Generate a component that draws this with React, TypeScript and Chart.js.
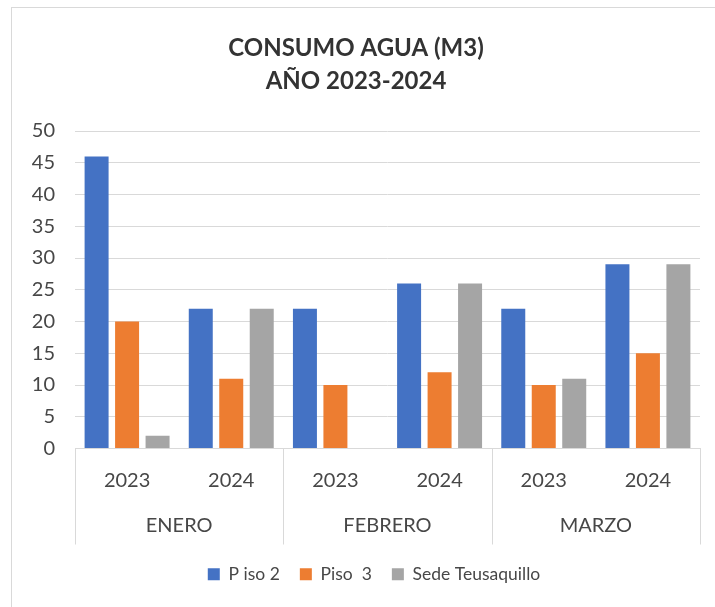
import React, { useEffect, useRef } from "react";
import { Chart, registerables } from "chart.js";

Chart.register(...registerables);

const years = ["2023", "2024", "2023", "2024", "2023", "2024"];
const months = ["ENERO", "FEBRERO", "MARZO"];
const piso2 = [46, 22, 22, 26, 22, 29];
const piso3 = [20, 11, 10, 12, 10, 15];
const sede: (number | null)[] = [2, 22, null, 26, 11, 29];
const seriesNames = ["P iso 2", "Piso  3", "Sede Teusaquillo"];
const titleLines = ["CONSUMO AGUA (M3)", "AÑO 2023-2024"];

const FONT = "Lato";
const GRID = "#d9d9d9";
const TEXT = "#474747";

const monthPlugin = {
  id: "monthGroups",
  afterLayout(chart: any) {
    const lg = chart.legend;
    if (lg) {
      lg.left += 18;
      lg.right += 18;
    }
  },
  afterDraw(chart: any) {
    const x = chart.scales.x;
    const ctx = chart.ctx;
    const bottom = chart.chartArea.bottom;
    const step = x.getPixelForValue(1) - x.getPixelForValue(0);
    ctx.save();
    ctx.strokeStyle = GRID;
    ctx.lineWidth = 1;
    const bounds: number[] = [];
    for (let g = 0; g < months.length; g++) {
      bounds.push(x.getPixelForValue(g * 2) - step / 2);
    }
    bounds.push(x.getPixelForValue(years.length - 1) + step / 2);
    bounds.forEach((bx) => {
      const px = Math.round(bx) + 0.5;
      ctx.beginPath();
      ctx.moveTo(px, bottom);
      ctx.lineTo(px, bottom + 96);
      ctx.stroke();
    });
    ctx.fillStyle = TEXT;
    ctx.font = `20px ${FONT}`;
    ctx.textAlign = "center";
    ctx.textBaseline = "middle";
    months.forEach((m, g) => {
      const cx = (x.getPixelForValue(g * 2) + x.getPixelForValue(g * 2 + 1)) / 2;
      ctx.fillText(m, cx, bottom + 77);
    });
    ctx.restore();
  },
};

export default function App() {
  const ref = useRef<HTMLCanvasElement>(null);
  useEffect(() => {
    if (!ref.current) return;
    const common = {
      categoryPercentage: 0.878,
      barPercentage: 0.787,
    };
    const chart = new Chart(ref.current, {
      type: "bar",
      data: {
        labels: years,
        datasets: [
          { label: seriesNames[0], data: piso2, backgroundColor: "#4472C4", ...common },
          { label: seriesNames[1], data: piso3, backgroundColor: "#ED7D31", ...common },
          { label: seriesNames[2], data: sede, backgroundColor: "#A5A5A5", ...common },
        ],
      },
      options: {
        animation: false,
        responsive: false,
        layout: { padding: { left: 0, right: 15, top: 0, bottom: 14 } },
        plugins: {
          title: {
            display: true,
            text: titleLines,
            color: "#333333",
            font: { family: FONT, size: 24, weight: "bold", lineHeight: 1.375 },
            padding: { top: 23.5, bottom: 33.5 },
          },
          legend: {
            position: "bottom",
            labels: {
              color: TEXT,
              font: { family: FONT, size: 17.5 },
              boxWidth: 12,
              boxHeight: 12,
              padding: 20,
            },
          },
          tooltip: { enabled: false },
        },
        scales: {
          x: {
            grid: { display: false },
            border: { display: true, color: GRID },
            ticks: { color: TEXT, font: { family: FONT, size: 20 }, padding: 12 },
            afterFit: (s: any) => {
              s.height = 97;
            },
          },
          y: {
            min: 0,
            max: 50,
            ticks: { stepSize: 5, color: TEXT, font: { family: FONT, size: 20 }, padding: 20 },
            grid: { color: GRID, drawTicks: false },
            border: { display: false },
            afterFit: (s: any) => {
              s.width = 63;
            },
          },
        },
      },
      plugins: [monthPlugin],
    });
    return () => chart.destroy();
  }, []);

  return (
    <div
      style={{
        position: "fixed",
        left: 0,
        top: 0,
        width: 715,
        height: 607,
        overflow: "hidden",
        background: "#fff",
      }}
    >
      <div
        style={{
          position: "absolute",
          left: 11,
          top: 7,
          width: 800,
          height: 700,
          border: `1px solid ${GRID}`,
          boxSizing: "border-box",
        }}
      />
      <canvas
        ref={ref}
        width={703}
        height={599}
        style={{ position: "absolute", left: 12, top: 8, width: 703, height: 599 }}
      />
    </div>
  );
}
